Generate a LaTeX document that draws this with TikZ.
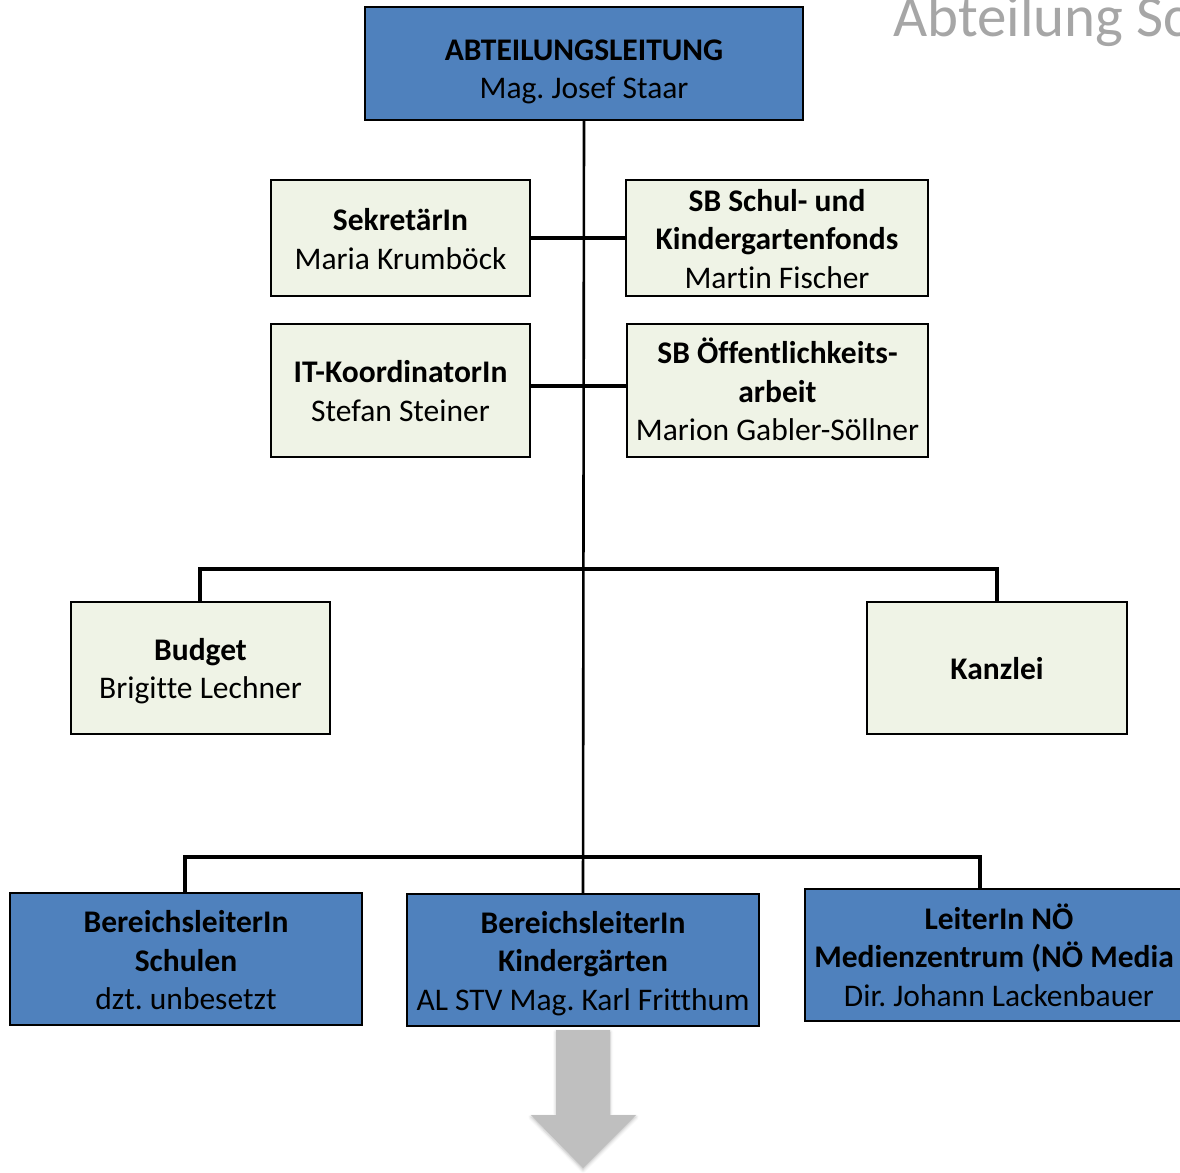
\documentclass[tikz,border=0pt]{standalone}
\usepackage{fontspec}
\setmainfont{Carlito}[Ligatures=CommonOff]
\frenchspacing
\usetikzlibrary{shadows.blur}
\definecolor{boxblue}{HTML}{4F81BD}
\definecolor{boxgreen}{HTML}{EFF3E6}
\definecolor{arrowgray}{HTML}{BFBFBF}
\definecolor{titlegray}{HTML}{A6A6A6}
% lines of a box, drawn #1 lower than centred
\newcommand{\boxlines}[2]{\raisebox{-#1}[\height][\depth]{\begin{tabular}{@{}c@{}}#2\end{tabular}}}
\begin{document}
\begin{tikzpicture}[x=1pt,y=-1pt,
  orgbox/.style={draw=black, line width=2pt, inner sep=0pt,
    font=\fontsize{31.5}{38.5}\selectfont},
  bluebox/.style={orgbox, fill=boxblue},
  greenbox/.style={orgbox, fill=boxgreen},
  trunk/.style={line width=2.6pt},
  branch/.style={line width=3.8pt}]
\useasboundingbox (0,0) rectangle (1180,1172);
\clip (0,0) rectangle (1180,1172);
% title
\node[anchor=base west, inner sep=0pt, text=titlegray,
  font=\fontsize{59}{70}\selectfont] (title) at (893,37) {Abteilung Sc};
% boxes
\node[bluebox, minimum width=438pt, minimum height=113pt] (top) at (584,63.5)
  {\boxlines{8.5pt}{\textbf{ABTEILUNGSLEITUNG}\\Mag. Josef Staar}};
\node[greenbox, minimum width=259pt, minimum height=116pt] (sek) at (400.5,238)
  {\boxlines{4.5pt}{\textbf{SekretärIn}\\Maria Krumböck}};
\node[greenbox, minimum width=302pt, minimum height=116pt] (sbs) at (777,238)
  {\boxlines{4pt}{\textbf{SB Schul- und}\\\textbf{Kindergartenfonds}\\Martin Fischer}};
\node[greenbox, minimum width=259pt, minimum height=133pt] (it) at (400.5,390.5)
  {\boxlines{4pt}{\textbf{IT-KoordinatorIn}\\Stefan Steiner}};
\node[greenbox, minimum width=301pt, minimum height=133pt] (sbo) at (777.5,390.5)
  {\boxlines{4pt}{\textbf{SB Öffentlichkeits-}\\\textbf{arbeit}\\Marion Gabler-Söllner}};
\node[greenbox, minimum width=259pt, minimum height=132pt] (budget) at (200.5,668)
  {\boxlines{4pt}{\textbf{Budget}\\Brigitte Lechner}};
\node[greenbox, minimum width=260pt, minimum height=132pt] (kanzlei) at (997,668)
  {\boxlines{4pt}{\textbf{Kanzlei}}};
\node[bluebox, minimum width=352pt, minimum height=132pt] (schulen) at (186,959)
  {\boxlines{4.5pt}{\textbf{BereichsleiterIn}\\\textbf{Schulen}\\dzt. unbesetzt}};
\node[bluebox, minimum width=352pt, minimum height=132pt] (kg) at (583,960)
  {\boxlines{4pt}{\textbf{BereichsleiterIn}\\\textbf{Kindergärten}\\AL STV Mag. Karl Fritthum}};
\node[bluebox, minimum width=388pt, minimum height=132pt] (noe) at (999,955)
  {\boxlines{5pt}{\textbf{LeiterIn NÖ}\\\textbf{Medienzentrum (NÖ Media\phantom{)}}\\Dir. Johann Lackenbauer}};
% connectors
\coordinate (b1) at (583,569);
\coordinate (b2) at (583,857);
\draw[trunk] (top.south) -- (kg.north);
\draw[branch] (sek.east) -- (sbs.west);
\draw[branch] ([yshift=4.5pt]it.east) -- ([yshift=4.5pt]sbo.west);
\draw[branch] ([xshift=-0.5pt]budget.north) |- (b1) -| (kanzlei.north);
\draw[branch] ([xshift=-1pt]schulen.north) |- (b2) -| ([xshift=-19pt]noe.north);
% block arrow
\fill[arrowgray, blur shadow={shadow xshift=0pt, shadow yshift=-2pt,
    shadow blur radius=3pt, shadow opacity=25}]
  (556,1030) -- (610,1030) -- (610,1115) -- (636,1115)
  -- (583,1168) -- (531,1115) -- (556,1115) -- cycle;
\end{tikzpicture}
\end{document}
